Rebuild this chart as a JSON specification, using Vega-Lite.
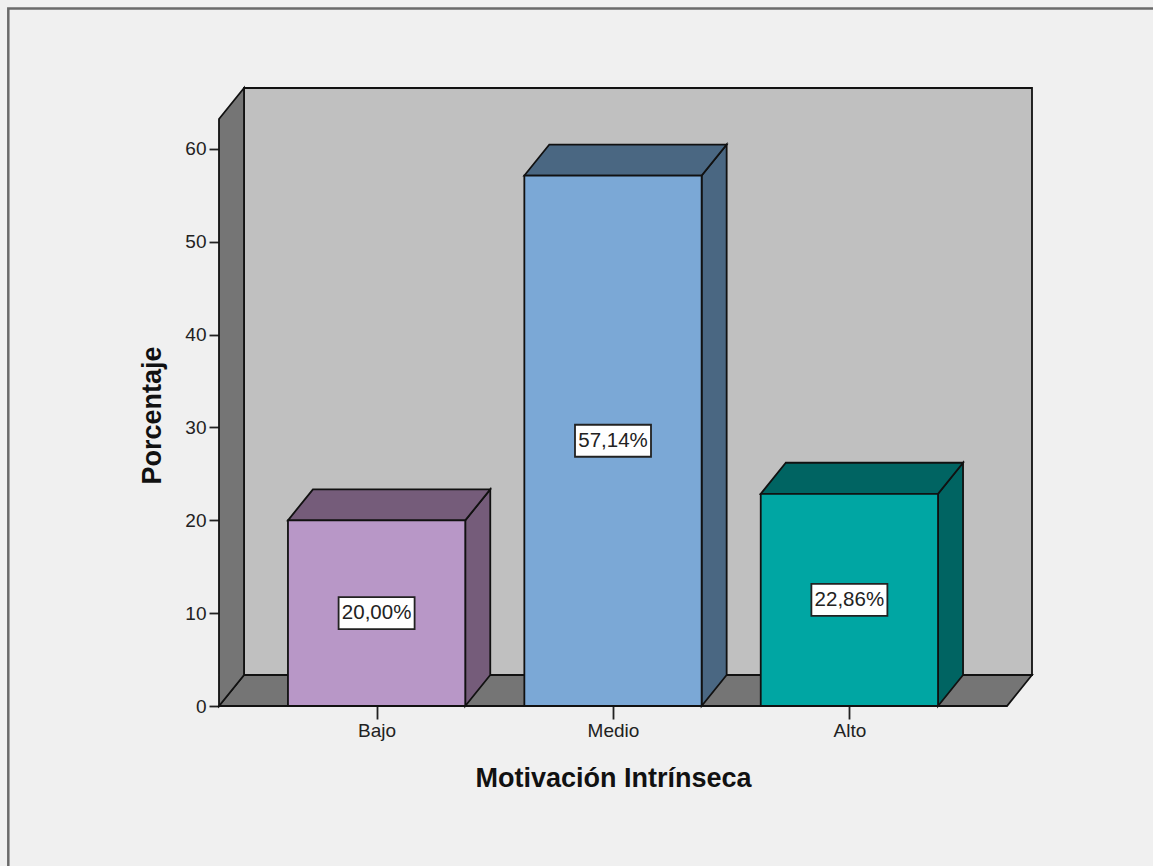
{
  "$schema": "https://vega.github.io/schema/vega-lite/v6.json",
  "width": 813,
  "height": 618,
  "autosize": "none",
  "padding": {"left": 219, "top": 88, "right": 121, "bottom": 160},
  "background": "#f0f0f0",
  "config": {
    "view": {"stroke": null},
    "font": "Liberation Sans",
    "axis": {"grid": false}
  },
  "datasets": {
    "barras": [
      {"nivel": "Bajo", "orden": 1, "porcentaje": 20.0},
      {"nivel": "Medio", "orden": 2, "porcentaje": 57.14},
      {"nivel": "Alto", "orden": 3, "porcentaje": 22.86}
    ]
  },
  "resolve": {"scale": {"color": "independent"}},
  "layer": [
    {
      "description": "Outer chart frame",
      "data": {"values": [{"x0": -0.558, "x1": 4.6, "y0": -30, "y1": 75.14}]},
      "mark": {"type": "rect", "fill": "transparent", "stroke": "#6a6a6a", "strokeWidth": 2.5},
      "encoding": {
        "x": {
          "field": "x0", "type": "quantitative",
          "scale": {"domain": [0.3333, 3.7725], "nice": false, "zero": false},
          "axis": {
            "values": [1, 2, 3],
            "labelExpr": "datum.value == 1 ? 'Bajo' : datum.value == 2 ? 'Medio' : 'Alto'",
            "domain": false, "tickSize": 13, "tickColor": "#222222", "tickWidth": 1.8,
            "labelFontSize": 19, "labelColor": "#222222", "labelPadding": 2, "labelFlush": false,
            "title": "Motivación Intrínseca", "titleFontSize": 27, "titleFontWeight": "bold",
            "titleColor": "#111111", "titleAnchor": "middle", "titleX": 394, "titleY": 59
          }
        },
        "x2": {"field": "x1"},
        "y": {
          "field": "y0", "type": "quantitative",
          "scale": {"domain": [0, 66.57], "nice": false, "zero": false},
          "axis": {
            "values": [0, 10, 20, 30, 40, 50, 60],
            "domain": false, "tickSize": 10, "tickColor": "#222222", "tickWidth": 1.8,
            "labelFontSize": 19, "labelColor": "#222222", "labelPadding": 3,
            "title": "Porcentaje", "titleFontSize": 27, "titleFontWeight": "bold",
            "titleColor": "#111111", "titleAnchor": "middle", "titleX": -53, "titleY": 327
          }
        },
        "y2": {"field": "y1"}
      }
    },
    {
      "description": "Back wall",
      "data": {"values": [{"x0": 0.4391, "x1": 3.7725, "y0": 3.34, "y1": 66.57}]},
      "mark": {"type": "rect", "fill": "#c0c0c0", "stroke": "#111111", "strokeWidth": 1.8},
      "encoding": {
        "x": {"field": "x0", "type": "quantitative"},
        "x2": {"field": "x1"},
        "y": {"field": "y0", "type": "quantitative"},
        "y2": {"field": "y1"}
      }
    },
    {
      "description": "Floor",
      "data": {"values": [
        {"a": 0.3333, "b": 3.6667, "y": 0},
        {"a": 0.4391, "b": 3.7725, "y": 3.34}
      ]},
      "mark": {"type": "area", "orient": "horizontal", "fill": "#757575", "stroke": "#111111", "strokeWidth": 1.8},
      "encoding": {
        "y": {"field": "y", "type": "quantitative"},
        "x": {"field": "a", "type": "quantitative"},
        "x2": {"field": "b"}
      }
    },
    {
      "description": "Left wall",
      "data": {"values": [
        {"x": 0.3333, "a": 0, "b": 63.23},
        {"x": 0.4391, "a": 3.34, "b": 66.57}
      ]},
      "mark": {"type": "area", "fill": "#757575", "stroke": "#111111", "strokeWidth": 1.8},
      "encoding": {
        "x": {"field": "x", "type": "quantitative"},
        "y": {"field": "a", "type": "quantitative"},
        "y2": {"field": "b"}
      }
    },
    {
      "description": "Right face of each bar",
      "data": {"name": "barras"},
      "transform": [
        {"calculate": "[0, 1]", "as": "paso"},
        {"flatten": ["paso"]},
        {"calculate": "datum.orden + 0.375 + datum.paso * 0.1058", "as": "xc"},
        {"calculate": "datum.paso * 3.34", "as": "base"},
        {"calculate": "datum.porcentaje + datum.paso * 3.34", "as": "cima"}
      ],
      "mark": {"type": "area", "stroke": "#111111", "strokeWidth": 1.8},
      "encoding": {
        "x": {"field": "xc", "type": "quantitative"},
        "y": {"field": "base", "type": "quantitative"},
        "y2": {"field": "cima"},
        "color": {
          "field": "nivel", "type": "nominal", "legend": null,
          "scale": {"domain": ["Bajo", "Medio", "Alto"], "range": ["#755c7a", "#4a6782", "#006462"]}
        }
      }
    },
    {
      "description": "Top face of each bar",
      "data": {"name": "barras"},
      "transform": [
        {"calculate": "[0, 1]", "as": "paso"},
        {"flatten": ["paso"]},
        {"calculate": "datum.orden - 0.375 + datum.paso * 0.1058", "as": "xa"},
        {"calculate": "datum.orden + 0.375 + datum.paso * 0.1058", "as": "xb"},
        {"calculate": "datum.porcentaje + datum.paso * 3.34", "as": "yc"}
      ],
      "mark": {"type": "area", "orient": "horizontal", "stroke": "#111111", "strokeWidth": 1.8},
      "encoding": {
        "y": {"field": "yc", "type": "quantitative"},
        "x": {"field": "xa", "type": "quantitative"},
        "x2": {"field": "xb"},
        "color": {
          "field": "nivel", "type": "nominal", "legend": null,
          "scale": {"domain": ["Bajo", "Medio", "Alto"], "range": ["#755c7a", "#4a6782", "#006462"]}
        }
      }
    },
    {
      "description": "Front face of each bar",
      "data": {"name": "barras"},
      "transform": [
        {"calculate": "datum.orden - 0.375", "as": "xa"},
        {"calculate": "datum.orden + 0.375", "as": "xb"},
        {"calculate": "0", "as": "base"}
      ],
      "mark": {"type": "rect", "stroke": "#111111", "strokeWidth": 1.8},
      "encoding": {
        "x": {"field": "xa", "type": "quantitative"},
        "x2": {"field": "xb"},
        "y": {"field": "base", "type": "quantitative"},
        "y2": {"field": "porcentaje"},
        "color": {
          "field": "nivel", "type": "nominal", "legend": null,
          "scale": {"domain": ["Bajo", "Medio", "Alto"], "range": ["#b897c7", "#7ba8d6", "#00a6a3"]}
        }
      }
    },
    {
      "description": "Value label box",
      "data": {"name": "barras"},
      "transform": [{"calculate": "datum.porcentaje / 2", "as": "medio"}],
      "mark": {"type": "point", "shape": "M-38,-16H38V16H-38Z", "size": 4, "filled": true, "fill": "#ffffff", "fillOpacity": 1, "opacity": 1, "stroke": "#222222", "strokeWidth": 1.8},
      "encoding": {
        "x": {"field": "orden", "type": "quantitative"},
        "y": {"field": "medio", "type": "quantitative"}
      }
    },
    {
      "description": "Value label text",
      "data": {"name": "barras"},
      "transform": [
        {"calculate": "datum.porcentaje / 2", "as": "medio"},
        {"calculate": "replace(format(datum.porcentaje, '.2f'), '.', ',') + '%'", "as": "rotulo"}
      ],
      "mark": {"type": "text", "fontSize": 20.5, "color": "#222222", "align": "center", "baseline": "middle"},
      "encoding": {
        "x": {"field": "orden", "type": "quantitative"},
        "y": {"field": "medio", "type": "quantitative"},
        "text": {"field": "rotulo"}
      }
    }
  ]
}
